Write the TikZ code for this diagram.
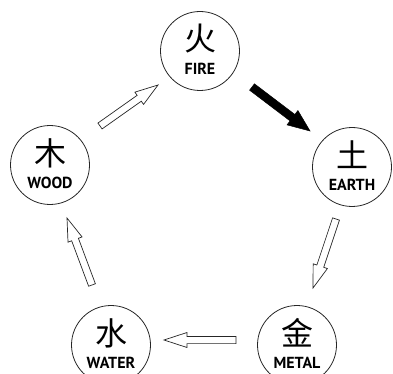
\documentclass[tikz,border=0pt]{standalone}
\usepackage{fontspec}
\setsansfont{PT Sans}
\newfontfamily\cjk{Noto Sans CJK SC}
\usetikzlibrary{calc}
\tikzset{
  element/.style={circle, draw=black!85, line width=0.8pt, minimum size=79pt, inner sep=0pt},
  hanzi/.style={font=\cjk\fontsize{32}{32}\selectfont, inner sep=0pt},
  ename/.style={font=\sffamily\bfseries\fontsize{16}{16}\selectfont, inner sep=0pt},
  openarr/.style={draw=black!85, line width=0.7pt, fill=white, line join=miter},
  solidarr/.style={draw=black, fill=black, line width=0.5pt, line join=miter}
}
% #1 style, #2 tail, #3 tip, #4 shaft half width, #5 head half width, #6 head length
\newcommand{\fatarrow}[6]{%
  \coordinate (hb) at ($(#3)!#6!(#2)$);
  \path[#1] ($(#2)!#4!90:(#3)$) -- ($(hb)!#4!-90:(#2)$) -- ($(hb)!#5!-90:(#2)$) -- (#3)
    -- ($(hb)!#5!90:(#2)$) -- ($(hb)!#4!90:(#2)$) -- ($(#2)!#4!-90:(#3)$) -- cycle;
}
\begin{document}
\begin{tikzpicture}[x=1pt,y=-1pt]
\useasboundingbox (0,0) rectangle (393,374);
\node[element] (fire)  at (200,51) {};
\node[element] (earth) at (352,167) {};
\node[element] (metal) at (297,345) {};
\node[element] (water) at (111,345) {};
\node[element] (wood)  at (50,165) {};
\foreach \n/\c/\t in {fire/火/FIRE, earth/土/EARTH, metal/金/METAL, water/水/WATER, wood/木/WOOD}{
  \node[hanzi] (\n-c) at ($(\n.center)+(0,-12)$) {\c};
  \node[ename] (\n-t) at ($(\n.center)+(0,18)$) {\t};
}
\coordinate (fe1) at (252,87);  \coordinate (fe2) at (310,131);
\coordinate (em1) at (336,219); \coordinate (em2) at (313,288);
\coordinate (mw1) at (236,340); \coordinate (mw2) at (164,340);
\coordinate (ww1) at (92,285);  \coordinate (ww2) at (67,218);
\coordinate (wf1) at (100,126); \coordinate (wf2) at (158,85);
\fatarrow{solidarr}{fe1}{fe2}{4pt}{9pt}{22pt}
\fatarrow{openarr}{em1}{em2}{3.6pt}{7.5pt}{23pt}
\fatarrow{openarr}{mw1}{mw2}{3.6pt}{7.5pt}{23pt}
\fatarrow{openarr}{ww1}{ww2}{3.6pt}{7.5pt}{23pt}
\fatarrow{openarr}{wf1}{wf2}{3.6pt}{7.5pt}{23pt}
\end{tikzpicture}
\end{document}
